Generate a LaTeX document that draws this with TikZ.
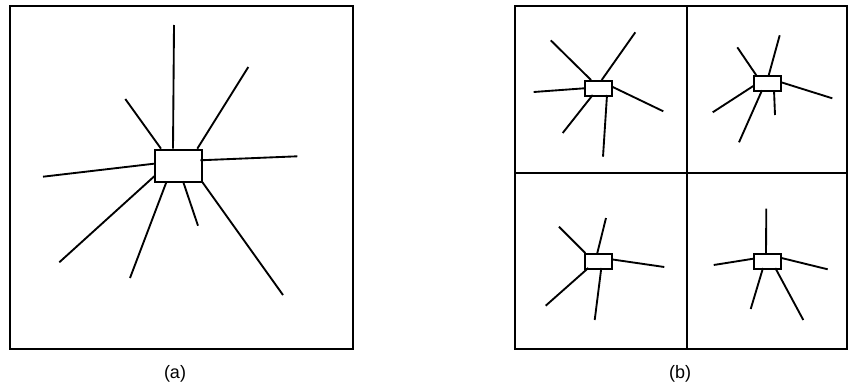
\documentclass[tikz,border=0pt]{standalone}
\usepackage{fontspec}
\setmainfont{Liberation Sans}
\usetikzlibrary{calc}
\begin{document}
\begin{tikzpicture}[x=0.75pt,y=-0.75pt,
  frame/.style={line width=1.5pt},
  spoke/.style={line width=1.4pt},
  bigbox/.style={draw,line width=1.5pt,fill=white,inner sep=0pt,minimum width=35.25pt,minimum height=24.5pt},
  smallbox/.style={draw,line width=1.5pt,fill=white,inner sep=0pt,minimum width=20.25pt,minimum height=11.25pt},
  lab/.style={font=\fontsize{13.5}{16}\selectfont,inner sep=0pt}]
\useasboundingbox (0,0) rectangle (848,389);
% frames
\draw[frame] (10,6.3) rectangle (353,349.3);
\draw[frame] (514.7,6.3) rectangle (847,349.3);
\draw[frame] (686.7,6.3) -- (686.7,349.3);
\draw[frame] (514.7,173) -- (847,173);
\node[lab] (la) at (175,374) {(a)};
\node[lab] (lb) at (680,374) {(b)};
% panel (a)
\node[bigbox] (A) at (178.8,166) {};
\coordinate (a1) at (174,25);
\coordinate (a2) at (125.3,99);
\coordinate (a3) at (248.3,67);
\coordinate (a4) at (297.3,156.3);
\coordinate (a5) at (43,176.7);
\coordinate (a6) at (59.3,262.3);
\coordinate (a7) at (130,278);
\coordinate (a8) at (198,225.7);
\coordinate (a9) at (283,295);
\draw[spoke] (a1) -- ($(A.north west)+(18.7,0)$);
\draw[spoke] (a2) -- ($(A.north west)+(6.7,0)$);
\draw[spoke] (a3) -- ($(A.north west)+(43,0)$);
\draw[spoke] (a4) -- ($(A.north west)+(46,11.6)$);
\draw[spoke] (a5) -- ($(A.north west)+(0,15)$);
\draw[spoke] (a6) -- ($(A.north west)+(0,27.6)$);
\draw[spoke] (a7) -- ($(A.north west)+(12.4,32.6)$);
\draw[spoke] (a8) -- ($(A.north west)+(28.7,32.6)$);
\draw[spoke] (a9) -- ($(A.north west)+(47,32)$);
% panel (b) top-left
\node[smallbox] (B) at (598.8,88.5) {};
\coordinate (b1) at (550.7,40.3);
\coordinate (b2) at (635.3,32.3);
\coordinate (b3) at (533.7,92);
\coordinate (b4) at (663.3,111.3);
\coordinate (b5) at (562.7,133);
\coordinate (b6) at (603,156.7);
\draw[spoke] (b1) -- ($(B.north west)+(6.7,0)$);
\draw[spoke] (b2) -- ($(B.north west)+(17.4,0)$);
\draw[spoke] (b3) -- ($(B.north west)+(0,8.3)$);
\draw[spoke] (b4) -- ($(B.north west)+(27,6.3)$);
\draw[spoke] (b5) -- ($(B.north west)+(8.4,15)$);
\draw[spoke] (b6) -- ($(B.north west)+(22.7,15)$);
% panel (b) top-right
\node[smallbox] (C) at (767.8,83.8) {};
\coordinate (c1) at (737.3,47.3);
\coordinate (c2) at (779.7,35.3);
\coordinate (c3) at (832.3,98.3);
\coordinate (c4) at (712.7,112.3);
\coordinate (c5) at (739,142.3);
\coordinate (c6) at (775,115);
\draw[spoke] (c1) -- ($(C.north west)+(3,0)$);
\draw[spoke] (c2) -- ($(C.north west)+(15.4,0)$);
\draw[spoke] (c3) -- ($(C.north west)+(27,6.7)$);
\draw[spoke] (c4) -- ($(C.north west)+(0,10.7)$);
\draw[spoke] (c5) -- ($(C.north west)+(8.7,15)$);
\draw[spoke] (c6) -- ($(C.north west)+(20.7,15)$);
% panel (b) bottom-left
\node[smallbox] (D) at (598.8,261.5) {};
\coordinate (d1) at (559,226.7);
\coordinate (d2) at (606,218);
\coordinate (d3) at (664.3,267);
\coordinate (d4) at (545.7,305.7);
\coordinate (d5) at (594.7,320);
\draw[spoke] (d1) -- ($(D.north west)+(1,0)$);
\draw[spoke] (d2) -- ($(D.north west)+(13,0)$);
\draw[spoke] (d3) -- ($(D.north west)+(27,6.3)$);
\draw[spoke] (d4) -- ($(D.north west)+(4,15)$);
\draw[spoke] (d5) -- ($(D.north west)+(17,15)$);
% panel (b) bottom-right
\node[smallbox] (E) at (767.8,261.5) {};
\coordinate (e1) at (766.3,208.7);
\coordinate (e2) at (713.7,265);
\coordinate (e3) at (827.7,269.3);
\coordinate (e4) at (750.7,309);
\coordinate (e5) at (803.3,320);
\draw[spoke] (e1) -- ($(E.north west)+(12.7,0)$);
\draw[spoke] (e2) -- ($(E.north west)+(0,5.7)$);
\draw[spoke] (e3) -- ($(E.north west)+(27,4.7)$);
\draw[spoke] (e4) -- ($(E.north west)+(9.7,15)$);
\draw[spoke] (e5) -- ($(E.north west)+(22,15)$);
\end{tikzpicture}
\end{document}
